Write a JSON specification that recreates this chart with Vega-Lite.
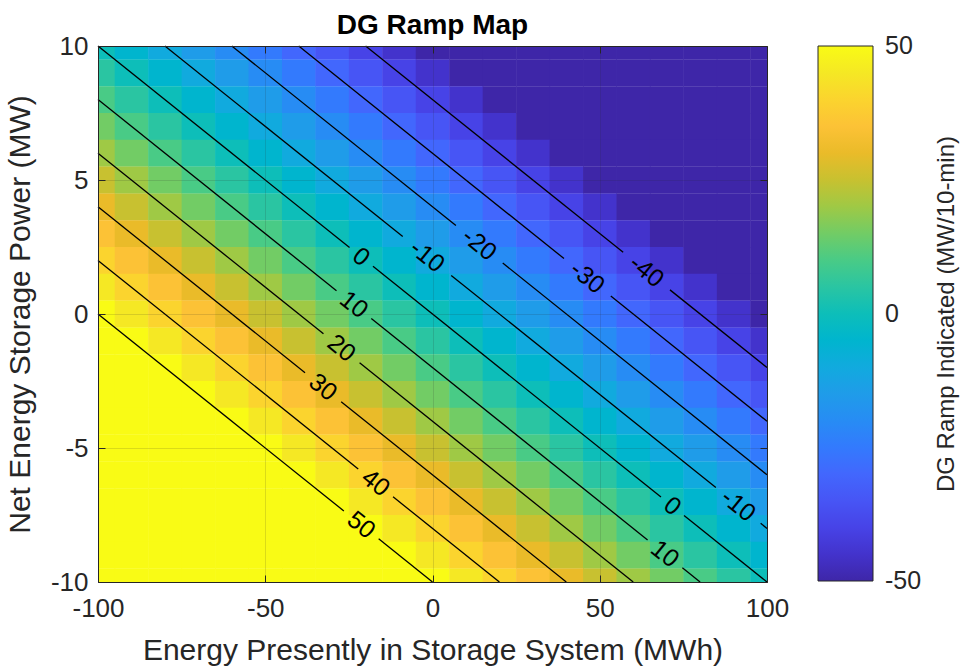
{
  "$schema": "https://vega.github.io/schema/vega-lite/v6.json",
  "width": 669,
  "height": 536,
  "autosize": {"type": "none"},
  "padding": {"left": 98, "top": 46, "right": 194, "bottom": 88},
  "title": {"text": "DG Ramp Map", "fontSize": 28, "fontWeight": "bold", "font": "Liberation Sans", "color": "#000000", "anchor": "middle", "offset": -7},
  "config": {"font": "Liberation Sans", "view": {"stroke": null}},
  "layer": [
    {
      "data": {"values": [
        {"x":-100,"y":10,"v":0},{"x":-90,"y":10,"v":-5},{"x":-80,"y":10,"v":-10},{"x":-70,"y":10,"v":-15},{"x":-60,"y":10,"v":-20},{"x":-50,"y":10,"v":-25},{"x":-40,"y":10,"v":-30},{"x":-30,"y":10,"v":-35},{"x":-20,"y":10,"v":-40},{"x":-10,"y":10,"v":-45},{"x":0,"y":10,"v":-50},{"x":10,"y":10,"v":-50},{"x":20,"y":10,"v":-50},{"x":30,"y":10,"v":-50},{"x":40,"y":10,"v":-50},{"x":50,"y":10,"v":-50},{"x":60,"y":10,"v":-50},{"x":70,"y":10,"v":-50},{"x":80,"y":10,"v":-50},{"x":90,"y":10,"v":-50},{"x":100,"y":10,"v":-50},
        {"x":-100,"y":9,"v":5},{"x":-90,"y":9,"v":0},{"x":-80,"y":9,"v":-5},{"x":-70,"y":9,"v":-10},{"x":-60,"y":9,"v":-15},{"x":-50,"y":9,"v":-20},{"x":-40,"y":9,"v":-25},{"x":-30,"y":9,"v":-30},{"x":-20,"y":9,"v":-35},{"x":-10,"y":9,"v":-40},{"x":0,"y":9,"v":-45},{"x":10,"y":9,"v":-50},{"x":20,"y":9,"v":-50},{"x":30,"y":9,"v":-50},{"x":40,"y":9,"v":-50},{"x":50,"y":9,"v":-50},{"x":60,"y":9,"v":-50},{"x":70,"y":9,"v":-50},{"x":80,"y":9,"v":-50},{"x":90,"y":9,"v":-50},{"x":100,"y":9,"v":-50},
        {"x":-100,"y":8,"v":10},{"x":-90,"y":8,"v":5},{"x":-80,"y":8,"v":0},{"x":-70,"y":8,"v":-5},{"x":-60,"y":8,"v":-10},{"x":-50,"y":8,"v":-15},{"x":-40,"y":8,"v":-20},{"x":-30,"y":8,"v":-25},{"x":-20,"y":8,"v":-30},{"x":-10,"y":8,"v":-35},{"x":0,"y":8,"v":-40},{"x":10,"y":8,"v":-45},{"x":20,"y":8,"v":-50},{"x":30,"y":8,"v":-50},{"x":40,"y":8,"v":-50},{"x":50,"y":8,"v":-50},{"x":60,"y":8,"v":-50},{"x":70,"y":8,"v":-50},{"x":80,"y":8,"v":-50},{"x":90,"y":8,"v":-50},{"x":100,"y":8,"v":-50},
        {"x":-100,"y":7,"v":15},{"x":-90,"y":7,"v":10},{"x":-80,"y":7,"v":5},{"x":-70,"y":7,"v":0},{"x":-60,"y":7,"v":-5},{"x":-50,"y":7,"v":-10},{"x":-40,"y":7,"v":-15},{"x":-30,"y":7,"v":-20},{"x":-20,"y":7,"v":-25},{"x":-10,"y":7,"v":-30},{"x":0,"y":7,"v":-35},{"x":10,"y":7,"v":-40},{"x":20,"y":7,"v":-45},{"x":30,"y":7,"v":-50},{"x":40,"y":7,"v":-50},{"x":50,"y":7,"v":-50},{"x":60,"y":7,"v":-50},{"x":70,"y":7,"v":-50},{"x":80,"y":7,"v":-50},{"x":90,"y":7,"v":-50},{"x":100,"y":7,"v":-50},
        {"x":-100,"y":6,"v":20},{"x":-90,"y":6,"v":15},{"x":-80,"y":6,"v":10},{"x":-70,"y":6,"v":5},{"x":-60,"y":6,"v":0},{"x":-50,"y":6,"v":-5},{"x":-40,"y":6,"v":-10},{"x":-30,"y":6,"v":-15},{"x":-20,"y":6,"v":-20},{"x":-10,"y":6,"v":-25},{"x":0,"y":6,"v":-30},{"x":10,"y":6,"v":-35},{"x":20,"y":6,"v":-40},{"x":30,"y":6,"v":-45},{"x":40,"y":6,"v":-50},{"x":50,"y":6,"v":-50},{"x":60,"y":6,"v":-50},{"x":70,"y":6,"v":-50},{"x":80,"y":6,"v":-50},{"x":90,"y":6,"v":-50},{"x":100,"y":6,"v":-50},
        {"x":-100,"y":5,"v":25},{"x":-90,"y":5,"v":20},{"x":-80,"y":5,"v":15},{"x":-70,"y":5,"v":10},{"x":-60,"y":5,"v":5},{"x":-50,"y":5,"v":0},{"x":-40,"y":5,"v":-5},{"x":-30,"y":5,"v":-10},{"x":-20,"y":5,"v":-15},{"x":-10,"y":5,"v":-20},{"x":0,"y":5,"v":-25},{"x":10,"y":5,"v":-30},{"x":20,"y":5,"v":-35},{"x":30,"y":5,"v":-40},{"x":40,"y":5,"v":-45},{"x":50,"y":5,"v":-50},{"x":60,"y":5,"v":-50},{"x":70,"y":5,"v":-50},{"x":80,"y":5,"v":-50},{"x":90,"y":5,"v":-50},{"x":100,"y":5,"v":-50},
        {"x":-100,"y":4,"v":30},{"x":-90,"y":4,"v":25},{"x":-80,"y":4,"v":20},{"x":-70,"y":4,"v":15},{"x":-60,"y":4,"v":10},{"x":-50,"y":4,"v":5},{"x":-40,"y":4,"v":0},{"x":-30,"y":4,"v":-5},{"x":-20,"y":4,"v":-10},{"x":-10,"y":4,"v":-15},{"x":0,"y":4,"v":-20},{"x":10,"y":4,"v":-25},{"x":20,"y":4,"v":-30},{"x":30,"y":4,"v":-35},{"x":40,"y":4,"v":-40},{"x":50,"y":4,"v":-45},{"x":60,"y":4,"v":-50},{"x":70,"y":4,"v":-50},{"x":80,"y":4,"v":-50},{"x":90,"y":4,"v":-50},{"x":100,"y":4,"v":-50},
        {"x":-100,"y":3,"v":35},{"x":-90,"y":3,"v":30},{"x":-80,"y":3,"v":25},{"x":-70,"y":3,"v":20},{"x":-60,"y":3,"v":15},{"x":-50,"y":3,"v":10},{"x":-40,"y":3,"v":5},{"x":-30,"y":3,"v":0},{"x":-20,"y":3,"v":-5},{"x":-10,"y":3,"v":-10},{"x":0,"y":3,"v":-15},{"x":10,"y":3,"v":-20},{"x":20,"y":3,"v":-25},{"x":30,"y":3,"v":-30},{"x":40,"y":3,"v":-35},{"x":50,"y":3,"v":-40},{"x":60,"y":3,"v":-45},{"x":70,"y":3,"v":-50},{"x":80,"y":3,"v":-50},{"x":90,"y":3,"v":-50},{"x":100,"y":3,"v":-50},
        {"x":-100,"y":2,"v":40},{"x":-90,"y":2,"v":35},{"x":-80,"y":2,"v":30},{"x":-70,"y":2,"v":25},{"x":-60,"y":2,"v":20},{"x":-50,"y":2,"v":15},{"x":-40,"y":2,"v":10},{"x":-30,"y":2,"v":5},{"x":-20,"y":2,"v":0},{"x":-10,"y":2,"v":-5},{"x":0,"y":2,"v":-10},{"x":10,"y":2,"v":-15},{"x":20,"y":2,"v":-20},{"x":30,"y":2,"v":-25},{"x":40,"y":2,"v":-30},{"x":50,"y":2,"v":-35},{"x":60,"y":2,"v":-40},{"x":70,"y":2,"v":-45},{"x":80,"y":2,"v":-50},{"x":90,"y":2,"v":-50},{"x":100,"y":2,"v":-50},
        {"x":-100,"y":1,"v":45},{"x":-90,"y":1,"v":40},{"x":-80,"y":1,"v":35},{"x":-70,"y":1,"v":30},{"x":-60,"y":1,"v":25},{"x":-50,"y":1,"v":20},{"x":-40,"y":1,"v":15},{"x":-30,"y":1,"v":10},{"x":-20,"y":1,"v":5},{"x":-10,"y":1,"v":0},{"x":0,"y":1,"v":-5},{"x":10,"y":1,"v":-10},{"x":20,"y":1,"v":-15},{"x":30,"y":1,"v":-20},{"x":40,"y":1,"v":-25},{"x":50,"y":1,"v":-30},{"x":60,"y":1,"v":-35},{"x":70,"y":1,"v":-40},{"x":80,"y":1,"v":-45},{"x":90,"y":1,"v":-50},{"x":100,"y":1,"v":-50},
        {"x":-100,"y":0,"v":50},{"x":-90,"y":0,"v":45},{"x":-80,"y":0,"v":40},{"x":-70,"y":0,"v":35},{"x":-60,"y":0,"v":30},{"x":-50,"y":0,"v":25},{"x":-40,"y":0,"v":20},{"x":-30,"y":0,"v":15},{"x":-20,"y":0,"v":10},{"x":-10,"y":0,"v":5},{"x":0,"y":0,"v":0},{"x":10,"y":0,"v":-5},{"x":20,"y":0,"v":-10},{"x":30,"y":0,"v":-15},{"x":40,"y":0,"v":-20},{"x":50,"y":0,"v":-25},{"x":60,"y":0,"v":-30},{"x":70,"y":0,"v":-35},{"x":80,"y":0,"v":-40},{"x":90,"y":0,"v":-45},{"x":100,"y":0,"v":-50},
        {"x":-100,"y":-1,"v":50},{"x":-90,"y":-1,"v":50},{"x":-80,"y":-1,"v":45},{"x":-70,"y":-1,"v":40},{"x":-60,"y":-1,"v":35},{"x":-50,"y":-1,"v":30},{"x":-40,"y":-1,"v":25},{"x":-30,"y":-1,"v":20},{"x":-20,"y":-1,"v":15},{"x":-10,"y":-1,"v":10},{"x":0,"y":-1,"v":5},{"x":10,"y":-1,"v":0},{"x":20,"y":-1,"v":-5},{"x":30,"y":-1,"v":-10},{"x":40,"y":-1,"v":-15},{"x":50,"y":-1,"v":-20},{"x":60,"y":-1,"v":-25},{"x":70,"y":-1,"v":-30},{"x":80,"y":-1,"v":-35},{"x":90,"y":-1,"v":-40},{"x":100,"y":-1,"v":-45},
        {"x":-100,"y":-2,"v":50},{"x":-90,"y":-2,"v":50},{"x":-80,"y":-2,"v":50},{"x":-70,"y":-2,"v":45},{"x":-60,"y":-2,"v":40},{"x":-50,"y":-2,"v":35},{"x":-40,"y":-2,"v":30},{"x":-30,"y":-2,"v":25},{"x":-20,"y":-2,"v":20},{"x":-10,"y":-2,"v":15},{"x":0,"y":-2,"v":10},{"x":10,"y":-2,"v":5},{"x":20,"y":-2,"v":0},{"x":30,"y":-2,"v":-5},{"x":40,"y":-2,"v":-10},{"x":50,"y":-2,"v":-15},{"x":60,"y":-2,"v":-20},{"x":70,"y":-2,"v":-25},{"x":80,"y":-2,"v":-30},{"x":90,"y":-2,"v":-35},{"x":100,"y":-2,"v":-40},
        {"x":-100,"y":-3,"v":50},{"x":-90,"y":-3,"v":50},{"x":-80,"y":-3,"v":50},{"x":-70,"y":-3,"v":50},{"x":-60,"y":-3,"v":45},{"x":-50,"y":-3,"v":40},{"x":-40,"y":-3,"v":35},{"x":-30,"y":-3,"v":30},{"x":-20,"y":-3,"v":25},{"x":-10,"y":-3,"v":20},{"x":0,"y":-3,"v":15},{"x":10,"y":-3,"v":10},{"x":20,"y":-3,"v":5},{"x":30,"y":-3,"v":0},{"x":40,"y":-3,"v":-5},{"x":50,"y":-3,"v":-10},{"x":60,"y":-3,"v":-15},{"x":70,"y":-3,"v":-20},{"x":80,"y":-3,"v":-25},{"x":90,"y":-3,"v":-30},{"x":100,"y":-3,"v":-35},
        {"x":-100,"y":-4,"v":50},{"x":-90,"y":-4,"v":50},{"x":-80,"y":-4,"v":50},{"x":-70,"y":-4,"v":50},{"x":-60,"y":-4,"v":50},{"x":-50,"y":-4,"v":45},{"x":-40,"y":-4,"v":40},{"x":-30,"y":-4,"v":35},{"x":-20,"y":-4,"v":30},{"x":-10,"y":-4,"v":25},{"x":0,"y":-4,"v":20},{"x":10,"y":-4,"v":15},{"x":20,"y":-4,"v":10},{"x":30,"y":-4,"v":5},{"x":40,"y":-4,"v":0},{"x":50,"y":-4,"v":-5},{"x":60,"y":-4,"v":-10},{"x":70,"y":-4,"v":-15},{"x":80,"y":-4,"v":-20},{"x":90,"y":-4,"v":-25},{"x":100,"y":-4,"v":-30},
        {"x":-100,"y":-5,"v":50},{"x":-90,"y":-5,"v":50},{"x":-80,"y":-5,"v":50},{"x":-70,"y":-5,"v":50},{"x":-60,"y":-5,"v":50},{"x":-50,"y":-5,"v":50},{"x":-40,"y":-5,"v":45},{"x":-30,"y":-5,"v":40},{"x":-20,"y":-5,"v":35},{"x":-10,"y":-5,"v":30},{"x":0,"y":-5,"v":25},{"x":10,"y":-5,"v":20},{"x":20,"y":-5,"v":15},{"x":30,"y":-5,"v":10},{"x":40,"y":-5,"v":5},{"x":50,"y":-5,"v":0},{"x":60,"y":-5,"v":-5},{"x":70,"y":-5,"v":-10},{"x":80,"y":-5,"v":-15},{"x":90,"y":-5,"v":-20},{"x":100,"y":-5,"v":-25},
        {"x":-100,"y":-6,"v":50},{"x":-90,"y":-6,"v":50},{"x":-80,"y":-6,"v":50},{"x":-70,"y":-6,"v":50},{"x":-60,"y":-6,"v":50},{"x":-50,"y":-6,"v":50},{"x":-40,"y":-6,"v":50},{"x":-30,"y":-6,"v":45},{"x":-20,"y":-6,"v":40},{"x":-10,"y":-6,"v":35},{"x":0,"y":-6,"v":30},{"x":10,"y":-6,"v":25},{"x":20,"y":-6,"v":20},{"x":30,"y":-6,"v":15},{"x":40,"y":-6,"v":10},{"x":50,"y":-6,"v":5},{"x":60,"y":-6,"v":0},{"x":70,"y":-6,"v":-5},{"x":80,"y":-6,"v":-10},{"x":90,"y":-6,"v":-15},{"x":100,"y":-6,"v":-20},
        {"x":-100,"y":-7,"v":50},{"x":-90,"y":-7,"v":50},{"x":-80,"y":-7,"v":50},{"x":-70,"y":-7,"v":50},{"x":-60,"y":-7,"v":50},{"x":-50,"y":-7,"v":50},{"x":-40,"y":-7,"v":50},{"x":-30,"y":-7,"v":50},{"x":-20,"y":-7,"v":45},{"x":-10,"y":-7,"v":40},{"x":0,"y":-7,"v":35},{"x":10,"y":-7,"v":30},{"x":20,"y":-7,"v":25},{"x":30,"y":-7,"v":20},{"x":40,"y":-7,"v":15},{"x":50,"y":-7,"v":10},{"x":60,"y":-7,"v":5},{"x":70,"y":-7,"v":0},{"x":80,"y":-7,"v":-5},{"x":90,"y":-7,"v":-10},{"x":100,"y":-7,"v":-15},
        {"x":-100,"y":-8,"v":50},{"x":-90,"y":-8,"v":50},{"x":-80,"y":-8,"v":50},{"x":-70,"y":-8,"v":50},{"x":-60,"y":-8,"v":50},{"x":-50,"y":-8,"v":50},{"x":-40,"y":-8,"v":50},{"x":-30,"y":-8,"v":50},{"x":-20,"y":-8,"v":50},{"x":-10,"y":-8,"v":45},{"x":0,"y":-8,"v":40},{"x":10,"y":-8,"v":35},{"x":20,"y":-8,"v":30},{"x":30,"y":-8,"v":25},{"x":40,"y":-8,"v":20},{"x":50,"y":-8,"v":15},{"x":60,"y":-8,"v":10},{"x":70,"y":-8,"v":5},{"x":80,"y":-8,"v":0},{"x":90,"y":-8,"v":-5},{"x":100,"y":-8,"v":-10},
        {"x":-100,"y":-9,"v":50},{"x":-90,"y":-9,"v":50},{"x":-80,"y":-9,"v":50},{"x":-70,"y":-9,"v":50},{"x":-60,"y":-9,"v":50},{"x":-50,"y":-9,"v":50},{"x":-40,"y":-9,"v":50},{"x":-30,"y":-9,"v":50},{"x":-20,"y":-9,"v":50},{"x":-10,"y":-9,"v":50},{"x":0,"y":-9,"v":45},{"x":10,"y":-9,"v":40},{"x":20,"y":-9,"v":35},{"x":30,"y":-9,"v":30},{"x":40,"y":-9,"v":25},{"x":50,"y":-9,"v":20},{"x":60,"y":-9,"v":15},{"x":70,"y":-9,"v":10},{"x":80,"y":-9,"v":5},{"x":90,"y":-9,"v":0},{"x":100,"y":-9,"v":-5},
        {"x":-100,"y":-10,"v":50},{"x":-90,"y":-10,"v":50},{"x":-80,"y":-10,"v":50},{"x":-70,"y":-10,"v":50},{"x":-60,"y":-10,"v":50},{"x":-50,"y":-10,"v":50},{"x":-40,"y":-10,"v":50},{"x":-30,"y":-10,"v":50},{"x":-20,"y":-10,"v":50},{"x":-10,"y":-10,"v":50},{"x":0,"y":-10,"v":50},{"x":10,"y":-10,"v":45},{"x":20,"y":-10,"v":40},{"x":30,"y":-10,"v":35},{"x":40,"y":-10,"v":30},{"x":50,"y":-10,"v":25},{"x":60,"y":-10,"v":20},{"x":70,"y":-10,"v":15},{"x":80,"y":-10,"v":10},{"x":90,"y":-10,"v":5},{"x":100,"y":-10,"v":0}
      ]},
      "transform": [
        {"calculate": "datum.x - 5", "as": "x1"},
        {"calculate": "datum.x + 5.15", "as": "x2"},
        {"calculate": "datum.y - 0.51", "as": "y1"},
        {"calculate": "datum.y + 0.5", "as": "y2"}
      ],
      "mark": {"type": "rect", "clip": true, "strokeWidth": 0},
      "encoding": {
        "x": {"field": "x1", "type": "quantitative", "scale": {"domain": [-100, 100], "nice": false, "zero": false},
          "axis": {"orient": "bottom", "values": [-100, -50, 0, 50, 100], "labelExpr": "datum.value + ''", "title": "Energy Presently in Storage System (MWh)",
            "labelFontSize": 26, "titleFontSize": 30, "titleFontWeight": "normal", "labelColor": "#262626", "titleColor": "#262626",
            "domainColor": "#262626", "tickColor": "#262626", "tickSize": -7, "labelPadding": 20, "titlePadding": 14,
            "grid": true, "gridColor": "#262626", "gridOpacity": 0.15, "zindex": 1, "labelFlush": false}},
        "x2": {"field": "x2"},
        "y": {"field": "y1", "type": "quantitative", "scale": {"domain": [-10, 10], "nice": false, "zero": false},
          "axis": {"orient": "left", "values": [-10, -5, 0, 5, 10], "labelExpr": "datum.value + ''", "title": "Net Energy Storage Power (MW)",
            "labelFontSize": 26, "titleFontSize": 30, "titleFontWeight": "normal", "labelColor": "#262626", "titleColor": "#262626",
            "domainColor": "#262626", "tickColor": "#262626", "tickSize": -7, "labelPadding": 17, "titlePadding": 15,
            "grid": true, "gridColor": "#262626", "gridOpacity": 0.15, "zindex": 1, "labelFlush": false}},
        "y2": {"field": "y2"},
        "color": {"field": "v", "type": "quantitative",
          "scale": {"domain": [-50, 50], "range": ["#3e26a8","#4332cb","#4741e5","#4852f4","#4563fd","#3875fe","#2e87f7","#2796eb","#20a5e3","#12b1d6","#02bac3","#24c1ae","#37c897","#57cc7a","#81cc59","#abc73e","#d1bf2d","#f0ba29","#fec338","#fad62d","#f5e924","#f9fb15"]},
          "legend": {"orient": "right", "offset": 50, "type": "gradient", "direction": "vertical",
            "gradientLength": 535, "gradientThickness": 55, "gradientStrokeColor": "#262626", "gradientStrokeWidth": 1,
            "values": [-50, 0, 50], "labelExpr": "datum.value + ''", "labelFontSize": 25, "labelColor": "#262626", "labelOffset": 12, "labelOverlap": false, "labelBaseline": "middle",
            "title": "DG Ramp Indicated (MW/10-min)", "titleOrient": "right", "titleFontSize": 24, "titleBaseline": "top",
            "titleFontWeight": "normal", "titleColor": "#262626", "titlePadding": 14, "titleAnchor": "middle", "titleLimit": 600,
            "encode": {"title": {"update": {"angle": {"value": 270}}}, "labels": {"update": {"baseline": {"value": "middle"}}}}}}
      }
    },
    {
      "data": {"values": [
        {"xa":-100,"ya":0,"xb":-26.5,"yb":-7.35},{"xa":-16.1,"ya":-8.39,"xb":0,"yb":-10},
        {"xa":-100,"ya":2,"xb":-22.2,"yb":-5.78},{"xa":-11.8,"ya":-6.82,"xb":20,"yb":-10},
        {"xa":-100,"ya":4,"xb":-38.1,"yb":-2.19},{"xa":-27.3,"ya":-3.27,"xb":40,"yb":-10},
        {"xa":-100,"ya":6,"xb":-32.6,"yb":-0.74},{"xa":-21.8,"ya":-1.82,"xb":60,"yb":-10},
        {"xa":-100,"ya":8,"xb":-28.7,"yb":0.87},{"xa":-18.3,"ya":-0.17,"xb":64.3,"yb":-8.43},{"xa":74.7,"ya":-9.47,"xb":80,"yb":-10},
        {"xa":-100,"ya":10,"xb":-24.8,"yb":2.48},{"xa":-17.8,"ya":1.78,"xb":68.3,"yb":-6.83},{"xa":75.2,"ya":-7.52,"xb":100,"yb":-10},
        {"xa":-80,"ya":10,"xb":-8.9,"yb":2.89},{"xa":5.6,"ya":1.44,"xb":84.7,"yb":-6.47},{"xa":98.1,"ya":-7.81,"xb":100,"yb":-8},
        {"xa":-60,"ya":10,"xb":7,"yb":3.3},{"xa":21,"ya":1.9,"xb":100,"yb":-6},
        {"xa":-40,"ya":10,"xb":39.3,"yb":2.07},{"xa":53.3,"ya":0.67,"xb":100,"yb":-4},
        {"xa":-20,"ya":10,"xb":57,"yb":2.3},{"xa":71,"ya":0.9,"xb":100,"yb":-2}
      ]},
      "mark": {"type": "rule", "color": "#000000", "strokeWidth": 1.3},
      "encoding": {
        "x": {"field": "xa", "type": "quantitative", "scale": {"domain": [-100, 100], "nice": false, "zero": false},
          "axis": {"orient": "top", "values": [-100, -50, 0, 50, 100], "labels": false, "title": null, "grid": false,
            "domainColor": "#262626", "tickColor": "#262626", "tickSize": -7, "zindex": 1}},
        "x2": {"field": "xb"},
        "y": {"field": "ya", "type": "quantitative", "scale": {"domain": [-10, 10], "nice": false, "zero": false},
          "axis": {"orient": "right", "values": [-10, -5, 0, 5, 10], "labels": false, "title": null, "grid": false,
            "domainColor": "#262626", "tickColor": "#262626", "tickSize": -7, "zindex": 1}},
        "y2": {"field": "yb"}
      }
    },
    {
      "data": {"values": [
        {"x":-21.3,"y":-7.87,"t":"50"},{"x":-17,"y":-6.3,"t":"40"},{"x":-32.7,"y":-2.73,"t":"30"},{"x":-27.2,"y":-1.28,"t":"20"},
        {"x":-23.5,"y":0.35,"t":"10"},{"x":69.5,"y":-8.95,"t":"10"},{"x":-21.3,"y":2.13,"t":"0"},{"x":71.7,"y":-7.17,"t":"0"},
        {"x":-1.6,"y":2.16,"t":"-10"},{"x":91.4,"y":-7.14,"t":"-10"},{"x":14,"y":2.6,"t":"-20"},{"x":46.3,"y":1.37,"t":"-30"},{"x":64,"y":1.6,"t":"-40"}
      ]},
      "mark": {"type": "text", "angle": 38.7, "fontSize": 25, "font": "Liberation Sans", "color": "#000000", "align": "center", "baseline": "middle"},
      "encoding": {
        "x": {"field": "x", "type": "quantitative", "scale": {"domain": [-100, 100], "nice": false, "zero": false}, "axis": null},
        "y": {"field": "y", "type": "quantitative", "scale": {"domain": [-10, 10], "nice": false, "zero": false}, "axis": null},
        "text": {"field": "t", "type": "nominal"}
      }
    }
  ],
  "resolve": {"scale": {"x": "independent", "y": "independent"}, "axis": {"x": "independent", "y": "independent"}}
}
